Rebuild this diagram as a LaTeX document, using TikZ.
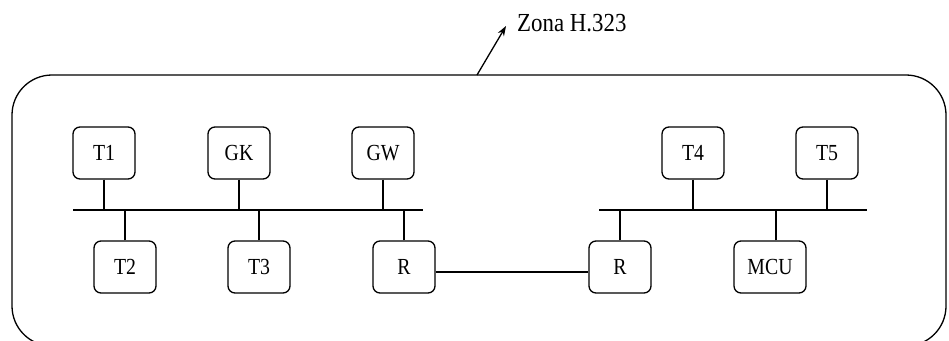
\documentclass[tikz,border=0pt]{standalone}
\usepackage{fontspec}
\setmainfont{Liberation Serif}
\usetikzlibrary{arrows.meta}
\begin{document}
\begin{tikzpicture}[x=1pt,y=-1pt,
  dev/.style={draw, line width=1.3pt, rounded corners=7pt, minimum width=62pt, minimum height=52pt, inner sep=0pt,
    font=\fontsize{23}{26}\selectfont},
  wire/.style={line width=1.3pt}]
\useasboundingbox (0,0) rectangle (949,340);
\fill[white] (0,0) rectangle (949,340);
% outer zone
\draw[wire, rounded corners=40pt] (12,75) rectangle (946,346);
% devices
\node[dev] (T1) at (104,153) {\scalebox{0.86}[1]{T1}};
\node[dev] (GK) at (239,153) {\scalebox{0.86}[1]{GK}};
\node[dev] (GW) at (383,153) {\scalebox{0.86}[1]{GW}};
\node[dev] (T4) at (693,153) {\scalebox{0.86}[1]{T4}};
\node[dev] (T5) at (827,153) {\scalebox{0.86}[1]{T5}};
\node[dev] (T2) at (125,267) {\scalebox{0.86}[1]{T2}};
\node[dev] (T3) at (259,267) {\scalebox{0.86}[1]{T3}};
\node[dev] (RL) at (404,267) {\scalebox{0.86}[1]{R}};
\node[dev] (RR) at (620,267) {\scalebox{0.86}[1]{R}};
\node[dev, minimum width=72pt] (MCU) at (770,267) {\scalebox{0.86}[1]{MCU}};
% buses
\coordinate (bLw) at (73,210);
\coordinate (bLe) at (423,210);
\coordinate (bRw) at (599,210);
\coordinate (bRe) at (867,210);
\coordinate (mcuTap) at (776,210);
\draw[wire] (bLw) -- (bLe);
\draw[wire] (bRw) -- (bRe);
% taps
\draw[wire] (T1) -- (T1 |- bLw);
\draw[wire] (GK) -- (GK |- bLw);
\draw[wire] (GW) -- (GW |- bLw);
\draw[wire] (T2) -- (T2 |- bLw);
\draw[wire] (T3) -- (T3 |- bLw);
\draw[wire] (RL) -- (RL |- bLw);
\draw[wire] (T4) -- (T4 |- bRw);
\draw[wire] (T5) -- (T5 |- bRw);
\draw[wire] (RR) -- (RR |- bRw);
\draw[wire] (MCU.north -| mcuTap) -- (mcuTap);
% router link
\draw[wire] ([yshift=-5pt]RL.east) -- ([yshift=-5pt]RR.west);
% zone label
\coordinate (zoneEdge) at (477,75);
\node[anchor=west, inner sep=0pt, font=\fontsize{26}{30}\selectfont] (zone) at (517,23) {\scalebox{0.88}[1]{Zona H.323}};
\draw[wire, -{Stealth[length=10pt,width=7pt]}] (zoneEdge) -- (506,26);
\end{tikzpicture}
\end{document}
